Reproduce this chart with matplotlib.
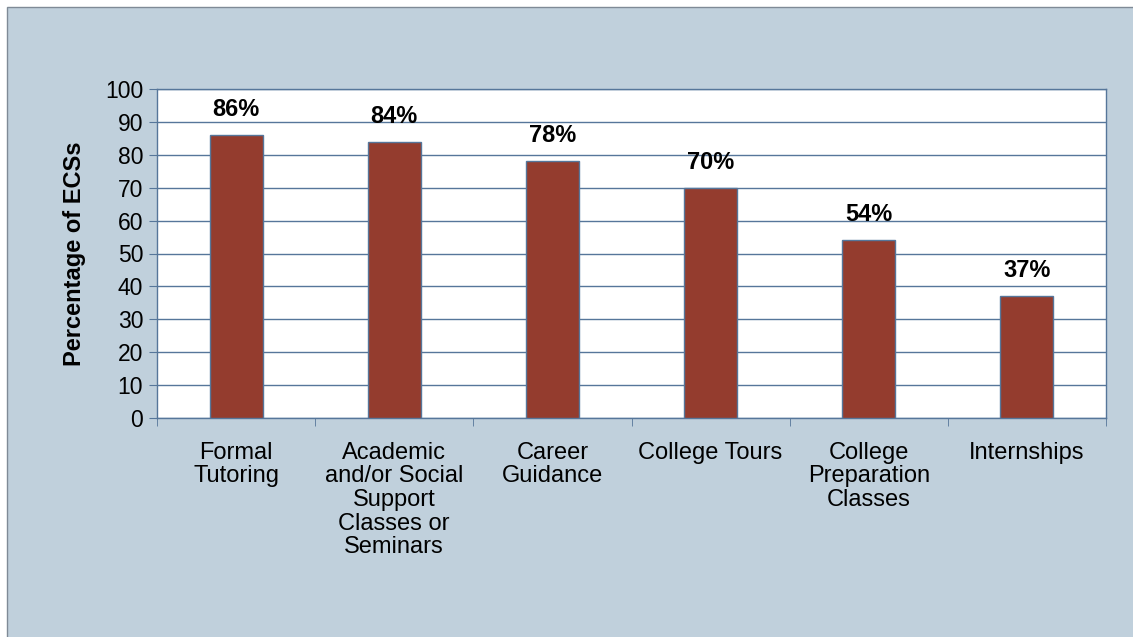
import numpy as np
import matplotlib.pyplot as plt
from matplotlib.patches import Rectangle

categories = ['Formal\nTutoring', 'Academic\nand/or Social\nSupport\nClasses or\nSeminars',
              'Career\nGuidance', 'College Tours', 'College\nPreparation\nClasses', 'Internships']
values = [86, 84, 78, 70, 54, 37]
value_labels = ['86%', '84%', '78%', '70%', '54%', '37%']

plt.rcParams['font.family'] = ['Liberation Sans', 'DejaVu Sans']

bg = '#C0D0DC'
line_col = '#56769A'
bar_col = '#943C2E'

fig = plt.figure(figsize=(11.33, 6.37), dpi=100)
fig.patch.set_facecolor('white')
fig.patches.append(Rectangle((7 / 1133, -0.05), 1.1, 1 - 7 / 637 + 0.05,
                             transform=fig.transFigure, facecolor=bg,
                             edgecolor='#7F8A96', linewidth=1, zorder=-5))

ax = fig.add_axes([157 / 1133, 1 - 418 / 637, (1106 - 157) / 1133, (418 - 89) / 637])
ax.set_zorder(2)
ax.set_facecolor('white')
x = np.arange(len(categories))
ax.bar(x, values, width=0.335, color=bar_col, edgecolor=line_col, linewidth=1, zorder=3)

for xi, v, lab in zip(x, values, value_labels):
    ax.annotate(lab, (xi, v), xytext=(0, 10), textcoords='offset points',
                ha='center', va='bottom', fontsize=17, fontweight='bold')

ax.set_xlim(-0.5, len(categories) - 0.5)
ax.set_ylim(0, 100)
ax.set_yticks(range(0, 101, 10))
ax.yaxis.grid(True, color=line_col, linewidth=1, zorder=0)
ax.set_axisbelow(True)

ax.set_xticks(x)
ax.set_xticklabels(categories, fontsize=17, linespacing=1.1, va='top')
ax.set_xticks(np.arange(-0.5, len(categories), 1), minor=True)
ax.tick_params(axis='x', which='major', length=0, pad=17)
ax.tick_params(axis='x', which='minor', length=6, color=line_col, direction='out')
ax.tick_params(axis='y', length=6, color=line_col, labelsize=16.5, pad=4)

for s in ax.spines.values():
    s.set_color(line_col)
    s.set_linewidth(1)

ax.set_ylabel('Percentage of ECSs', fontsize=17, fontweight='bold', labelpad=13.5)

plt.savefig('out.png', dpi=100, facecolor=fig.get_facecolor())
